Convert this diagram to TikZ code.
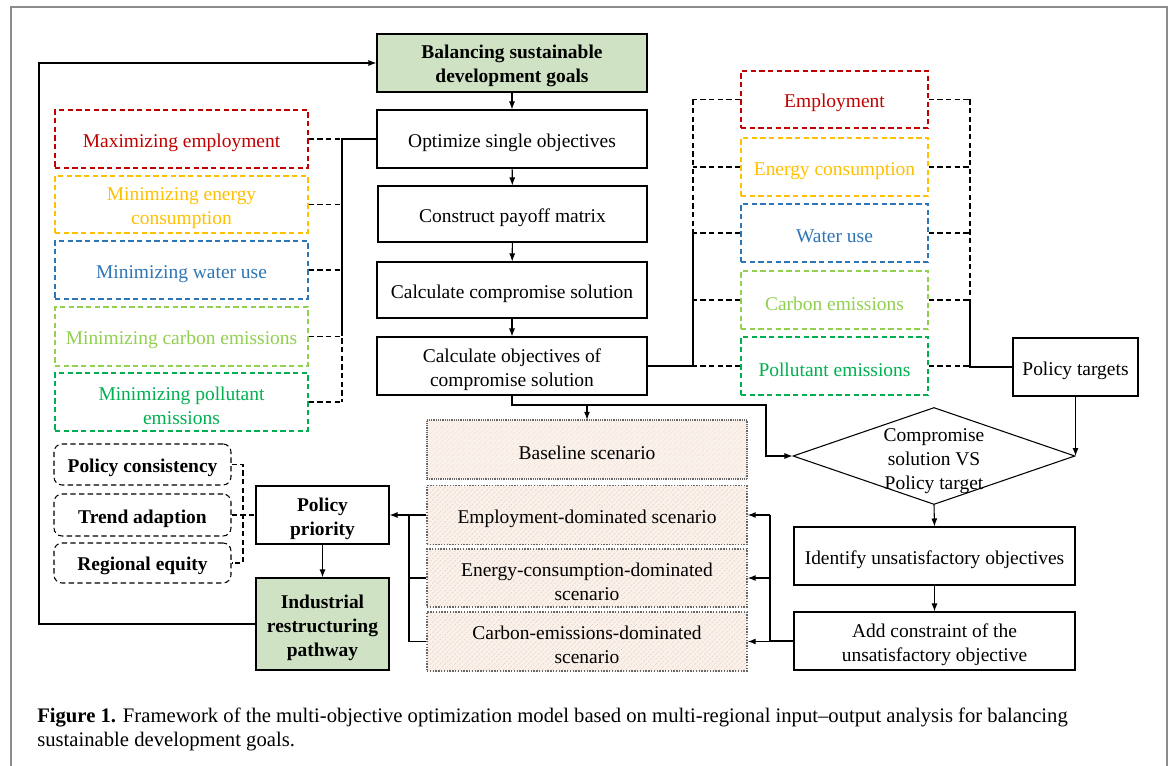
\documentclass[tikz,border=0pt]{standalone}
\usepackage{fontspec}
\setmainfont{Liberation Serif}
\usetikzlibrary{arrows.meta,shapes.geometric,patterns.meta}
\definecolor{cred}{RGB}{192,0,0}
\definecolor{cyel}{RGB}{255,192,0}
\definecolor{cblue}{RGB}{46,117,182}
\definecolor{clgreen}{RGB}{146,208,80}
\definecolor{cgreen}{RGB}{0,176,80}
\definecolor{gfill}{RGB}{207,227,196}
\definecolor{sbase}{RGB}{251,241,235}
\definecolor{shatch}{RGB}{232,206,192}
\definecolor{framegray}{RGB}{140,140,140}
\newcommand{\fsz}{\fontsize{14.6}{18}\selectfont}
\newcommand{\dnstrut}{\rule{0pt}{15.2pt}}
\begin{document}
\begin{tikzpicture}[x=0.75pt,y=-0.75pt,
  sz/.style 2 args={minimum width={#1*0.75pt}, minimum height={#2*0.75pt}},
  box/.style={draw, line width=0.8pt, align=center, inner sep=1pt, font=\fsz, execute at begin node=\dnstrut},
  gbox/.style={box, fill=gfill, font=\fsz\bfseries},
  dbox/.style={draw=#1, text=#1, dash pattern=on 4pt off 2.5pt, line width=0.8pt, align=center, inner sep=1pt, font=\fsz, execute at begin node=\dnstrut},
  rbox/.style={draw, dash pattern=on 4pt off 2.5pt, line width=0.8pt, rounded corners=6pt, align=center, inner sep=1pt, font=\fsz\bfseries, execute at begin node=\dnstrut},
  scen/.style={draw=black!60, densely dotted, line width=1.1pt, align=center, inner sep=1pt, font=\fsz, execute at begin node=\dnstrut,
     preaction={fill=sbase}, pattern={Lines[angle=45,distance=2.6pt,line width=0.35pt]}, pattern color=shatch},
  ln/.style={line width=0.8pt},
  dln/.style={line width=0.8pt, dash pattern=on 4pt off 2.5pt},
  arr/.style={line width=0.8pt, -{Latex[length=6pt,width=4.5pt]}}]
\useasboundingbox (0,0) rectangle (1170,766);
\fill[white] (0,0) rectangle (1170,766);
\draw[framegray, line width=1.5pt] (11,766) -- (11,7) -- (1167,7) -- (1167,766);

% main column
\node[gbox, sz={270}{58}] (bsdg) at (512,63) {\dnstrut Balancing sustainable\\development goals};
\node[box, sz={270}{58}] (opt) at (512,139) {Optimize single objectives};
\node[box, sz={269}{56}] (pay) at (512.5,214) {Construct payoff matrix};
\node[box, sz={270}{56}] (comp) at (512,290) {Calculate compromise solution};
\node[box, sz={270}{58}] (cobj) at (512,366) {\dnstrut Calculate objectives of\\compromise solution};

% left objective boxes
\node[dbox=cred, sz={253}{58}] (memp) at (181.5,139) {Maximizing employment};
\node[dbox=cyel, sz={253}{57}] (mene) at (181.5,204.5) {\dnstrut Minimizing energy\\consumption};
\node[dbox=cblue, sz={253}{58}] (mwat) at (181.5,270) {Minimizing water use};
\node[dbox=clgreen, sz={253}{59}] (mcar) at (181.5,336.5) {Minimizing carbon emissions};
\node[dbox=cgreen, sz={253}{58}] (mpol) at (181.5,402) {\dnstrut Minimizing pollutant\\emissions};

% right objective boxes
\node[dbox=cred, sz={187}{57}] (remp) at (834.5,99.5) {Employment};
\node[dbox=cyel, sz={187}{58}] (rene) at (834.5,167) {Energy consumption};
\node[dbox=cblue, sz={187}{58}] (rwat) at (834.5,233) {Water use};
\node[dbox=clgreen, sz={187}{58}] (rcar) at (834.5,300) {Carbon emissions};
\node[dbox=cgreen, sz={187}{58}] (rpol) at (834.5,366) {Pollutant emissions};

\node[box, sz={125}{58}] (ptar) at (1075.5,367) {Policy targets};

% decision
\node[draw, diamond, line width=0.8pt, minimum width={282*0.75pt}, minimum height={97*0.75pt}, inner sep=0pt] (dia) at (934,456) {};
\node[align=center, font=\fsz, inner sep=0pt] (diat) at (934,461) {Compromise\\solution VS\\Policy target};
\node[box, sz={281}{58}] (ident) at (934.5,556) {Identify unsatisfactory objectives};
\node[box, sz={281}{58}] (addc) at (934.5,641) {\dnstrut Add constraint of the\\unsatisfactory objective};

% scenarios
\node[scen, sz={320}{59}] (sbas) at (587,449.5) {Baseline scenario};
\node[scen, sz={320}{59}] (semp) at (587,515) {Employment-dominated scenario};
\node[scen, sz={320}{58}] (sene) at (587,578) {\dnstrut Energy-consumption-dominated\\scenario};
\node[scen, sz={320}{59}] (scar) at (587,641.5) {\dnstrut Carbon-emissions-dominated\\scenario};

% policy
\node[box, font=\fsz\bfseries, sz={133}{58}] (ppri) at (322.5,515) {\dnstrut Policy\\priority};
\node[gbox, sz={133}{92}] (ind) at (322.5,624) {\dnstrut Industrial\\restructuring\\pathway};
\node[rbox, sz={177}{41}] (pcon) at (142.5,464.5) {Policy consistency};
\node[rbox, sz={177}{42}] (trend) at (142.5,515) {Trend adaption};
\node[rbox, sz={177}{40}] (reg) at (142.5,563) {Regional equity};

% coordinates of buses
\coordinate (lbus) at (342,0);
\coordinate (rbl) at (693,0);
\coordinate (rbr) at (970,0);
\coordinate (abus) at (770,0);
\coordinate (sbus) at (409,0);
\coordinate (pbus) at (243,0);
\coordinate (fb) at (39,0);
\coordinate (j) at (587,405);
\coordinate (bend) at (766,405);

% main arrows
\draw[arr] (bsdg) -- (opt);
\draw[arr] (opt) -- (pay);
\draw[arr] (pay) -- (comp);
\draw[arr] (comp) -- (cobj);

% left bus
\draw[ln] (opt.west) -- (opt.west -| lbus) -- (mcar.east -| lbus);
\draw[dln] (memp.east -| lbus) -- (mpol.east -| lbus);
\foreach \n in {memp,mene,mwat,mcar,mpol} \draw[dln] (\n.east) -- (\n.east -| lbus);

% right buses
\draw[ln] (cobj.east) -- (cobj.east -| rbl) -- (rwat.west -| rbl);
\draw[dln] (remp.west -| rbl) -- (rpol.west -| rbl);
\foreach \n in {remp,rene,rwat,rcar,rpol} \draw[dln] (\n.west) -- (\n.west -| rbl);
\draw[ln] (ptar.west) -- (ptar.west -| rbr) -- (rcar.east -| rbr);
\draw[dln] (remp.east -| rbr) -- (rpol.east -| rbr);
\foreach \n in {remp,rene,rwat,rcar,rpol} \draw[dln] (\n.east) -- (\n.east -| rbr);

% to scenarios and decision
\draw[ln] (cobj.south) |- (j);
\draw[arr] (j) -- (sbas.north);
\draw[arr] (j) -- (bend) |- (dia.west);
\draw[arr] (ptar.south) -- (ptar.south |- dia.east);
\draw[arr] (dia.south) -- (ident.north);
\draw[arr] (ident) -- (addc);

% constraint feedback
\draw[ln] (addc.west) -- (addc.west -| abus) -- (semp.east -| abus);
\foreach \n in {semp,sene,scar} \draw[arr] (\n.east -| abus) -- (\n.east);

% scenarios to policy priority
\draw[ln] (scar.west) -- (scar.west -| sbus) -- (semp.west -| sbus);
\draw[ln] (sene.west) -- (sene.west -| sbus);
\draw[arr] (semp.west) -- (ppri.east);
\draw[arr] (ppri) -- (ind);

% feedback loop
\draw[arr] (ind.west) -- (ind.west -| fb) |- (bsdg.west);

% policy principles
\draw[dln] (pcon.east) -- (pcon.east -| pbus) -- (reg.east -| pbus) -- (reg.east);
\draw[dln] (trend.east) -- (ppri.west);

% caption
\node[anchor=base west, inner sep=0pt, font=\fontsize{15.5}{18}\selectfont] (cap1) at (37,722) {\textbf{Figure 1.} Framework of the multi-objective optimization model based on multi-regional input–output analysis for balancing};
\node[anchor=base west, inner sep=0pt, font=\fontsize{15.5}{18}\selectfont] (cap2) at (37,746) {sustainable development goals.};
\end{tikzpicture}
\end{document}
